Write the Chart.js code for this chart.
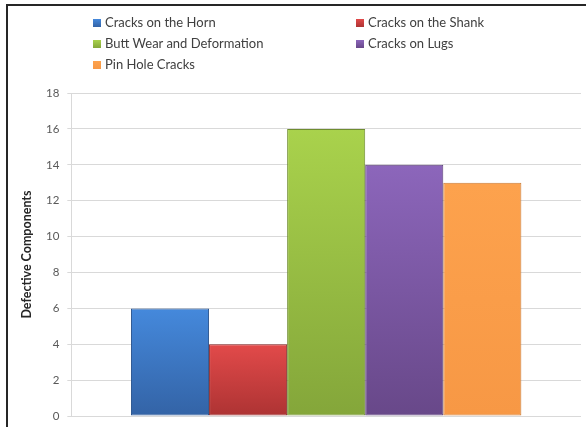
<!DOCTYPE html>
<html>
<head>
<meta charset="utf-8">
<script src="https://cdn.jsdelivr.net/npm/chart.js@4"></script>
<style>
  html, body { margin: 0; padding: 0; background: #fff; overflow: hidden; }
  #wrap { position: relative; width: 586px; height: 427px; overflow: hidden; }
  #myBarChart { display: block; }
  #frame { position: absolute; left: 6px; top: 4px; width: 700px; height: 500px; border: 2px solid #262626; box-sizing: border-box; pointer-events: none; }
  #legend { position: absolute; left: 0; top: 0; font-family: Lato, "Open Sans", sans-serif; font-size: 13px; color: #404040; }
  .item { position: absolute; white-space: nowrap; line-height: 14px; }
  .box { display: inline-block; width: 8px; height: 8px; margin-right: 4px; vertical-align: 0px; }
</style>
</head>
<body>
<div id="wrap">
  <canvas id="myBarChart" width="586" height="431"></canvas>
  <div id="legend"></div>
  <div id="frame"></div>
</div>
<script>
// Data
const categories = [""];
const seriesNames = [
  "Cracks on the Horn",
  "Cracks on the Shank",
  "Butt Wear and Deformation",
  "Cracks on Lugs",
  "Pin Hole Cracks",
];
const seriesValues = [6, 4, 16, 14, 13];
const yTicks = [0, 2, 4, 6, 8, 10, 12, 14, 16, 18];

// warna atas / bawah tiap batang (gradasi ala Excel)
const barColors = [
  { top: "#4589dc", bottom: "#3363a6", line: "#2c558f" },
  { top: "#e24a4a", bottom: "#ad3333", line: "#8e2a2a" },
  { top: "#a9d24c", bottom: "#84a63a", line: "#6f8c30" },
  { top: "#8c66bb", bottom: "#684889", line: "#573c74" },
  { top: "#fda24d", bottom: "#f79845", line: "#c97a35" },
];

function barGradient(context) {
  const chart = context.chart;
  const c = barColors[context.datasetIndex];
  const area = chart.chartArea;
  if (!area || typeof context.raw === "undefined") return c.top;
  const yTop = chart.scales.y.getPixelForValue(context.raw);
  const g = chart.ctx.createLinearGradient(0, yTop, 0, area.bottom);
  g.addColorStop(0, c.top);
  g.addColorStop(1, c.bottom);
  return g;
}

const ctxBar = document.getElementById("myBarChart");
const myBarChart = new Chart(ctxBar, {
  type: "bar",
  data: {
    labels: categories,
    datasets: seriesNames.map((name, i) => ({
      label: name,
      data: [seriesValues[i]],
      backgroundColor: barGradient,
      borderColor: barColors[i].line,
      borderWidth: 1,
      borderSkipped: false,
      barPercentage: 1,
      categoryPercentage: 0.766,
    })),
  },
  options: {
    responsive: false,
    animation: false,
    layout: {
      padding: { top: 93, bottom: 0, left: 19, right: 5 },
    },
    plugins: {
      legend: { display: false },
      tooltip: { enabled: false },
    },
    scales: {
      x: {
        display: false,
      },
      y: {
        min: 0,
        max: 18,
        afterBuildTicks: (axis) => {
          axis.ticks = yTicks.map((v) => ({ value: v }));
        },
        grid: {
          color: "#d9d9d9",
          lineWidth: 1,
          tickLength: 4,
          drawTicks: true,
        },
        border: { color: "#d9d9d9" },
        ticks: {
          color: "#595959",
          padding: 8,
          font: { family: "Lato, 'Open Sans', sans-serif", size: 11.5 },
        },
        title: {
          display: true,
          text: "Defective Components",
          color: "#262626",
          padding: { top: 0, bottom: 4 },
          font: { family: "Lato, 'Open Sans', sans-serif", size: 12.5, weight: "bold" },
        },
      },
    },
  },
});

// Legend HTML dua kolom
const legendPos = [
  { x: 93, y: 15 },
  { x: 356, y: 15 },
  { x: 93, y: 36 },
  { x: 356, y: 36 },
  { x: 93, y: 57 },
];
const legendEl = document.getElementById("legend");
seriesNames.forEach((name, i) => {
  const item = document.createElement("div");
  item.className = "item";
  item.style.left = legendPos[i].x + "px";
  item.style.top = legendPos[i].y + "px";
  const box = document.createElement("span");
  box.className = "box";
  box.style.background =
    "linear-gradient(" + barColors[i].top + ", " + barColors[i].bottom + ")";
  item.appendChild(box);
  item.appendChild(document.createTextNode(name));
  legendEl.appendChild(item);
});
</script>
</body>
</html>
